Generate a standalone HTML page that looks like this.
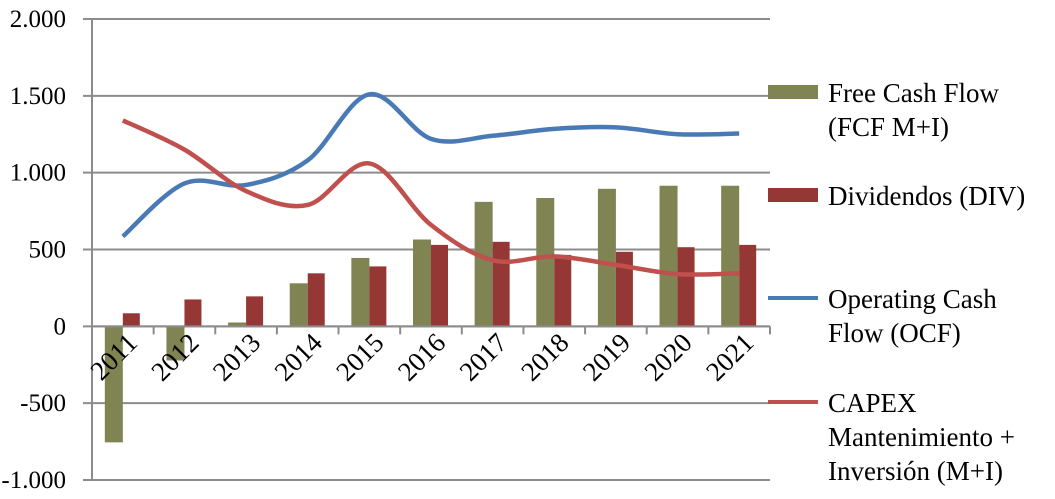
<!DOCTYPE html>
<html><head><meta charset="utf-8">
<style>
body{margin:0;background:#fff;}
svg{display:block;font-family:"Liberation Serif",serif;}
</style></head>
<body>
<svg id="chart" width="1055" height="499">
  <g id="grid"></g>
  <g id="bars"></g>
  <g id="lines"></g>
  <g id="axes"></g>
  <g id="legend" font-size="27">
    <rect x="768" y="85" width="50" height="14" fill="#7f8452"/>
    <text x="828" y="102">Free Cash Flow</text>
    <text x="828" y="136">(FCF M+I)</text>
    <rect x="768" y="188" width="50" height="14" fill="#953735"/>
    <text x="828" y="205">Dividendos (DIV)</text>
    <line x1="768" y1="298" x2="818" y2="298" stroke="#4a7ab5" stroke-width="4"/>
    <text x="828" y="308">Operating Cash</text>
    <text x="828" y="342">Flow (OCF)</text>
    <line x1="768" y1="402" x2="818" y2="402" stroke="#c0504d" stroke-width="4"/>
    <text x="828" y="412">CAPEX</text>
    <text x="828" y="446">Mantenimiento +</text>
    <text x="828" y="480">Inversión (M+I)</text>
  </g>
</svg>
<script>
const years = ["2011","2012","2013","2014","2015","2016","2017","2018","2019","2020","2021"];
const fcf = [-755,-222,25,280,445,565,810,835,895,915,915];
const div = [85,175,195,345,390,530,550,465,485,515,530];
const ocf = [585,930,920,1080,1510,1220,1240,1285,1295,1250,1255];
const capex = [1340,1150,880,790,1060,660,430,455,400,340,345];
const yTicks = [2000,1500,1000,500,0,-500,-1000];
const yTickLabels = ["2.000","1.500","1.000","500","0","-500","-1.000"];

const NS="http://www.w3.org/2000/svg";
const left=92,right=770,yTop=19,yBot=480,vmin=-1000,vmax=2000;
const bw=(right-left)/years.length;
const y=v=>yBot-(v-vmin)/(vmax-vmin)*(yBot-yTop);
const xc=i=>left+bw*(i+0.5);
function mk(tag,attrs,parent){const e=document.createElementNS(NS,tag);for(const k in attrs)e.setAttribute(k,attrs[k]);parent.appendChild(e);return e;}
const grid=document.getElementById('grid'),bars=document.getElementById('bars'),lines=document.getElementById('lines'),axes=document.getElementById('axes');

yTicks.forEach((t,i)=>{
  const g=mk('line',{x1:83,x2:right,y1:y(t),y2:y(t),stroke:'#8c8c8c','stroke-width':2},grid);
  
  
  const tx=mk('text',{x:66,y:y(t)+8,'text-anchor':'end','font-size':25},axes);
  tx.textContent=yTickLabels[i];
  
  
});
const ya=mk('line',{x1:left,x2:left,y1:yTop,y2:yBot,stroke:'#8c8c8c','stroke-width':2},axes);



years.forEach((yr,i)=>{
  const x0=xc(i);
  const v1=fcf[i];
  const b1=mk('rect',{x:x0-18,width:18,y:Math.min(y(v1),y(0)),height:Math.abs(y(v1)-y(0)),fill:'#7f8452'},bars);
  
  
  const v2=div[i];
  const b2=mk('rect',{x:x0,width:17,y:Math.min(y(v2),y(0)),height:Math.abs(y(v2)-y(0)),fill:'#953735'},bars);
  
  
  const tk=mk('line',{x1:left+bw*(i+1),x2:left+bw*(i+1),y1:y(0),y2:y(0)+8,stroke:'#8c8c8c','stroke-width':2},axes);
  
  
  const lx=x0+16,ly=y(0)+18;
  const lb=mk('text',{x:lx,y:ly,'text-anchor':'end','font-size':27,transform:`rotate(-45 ${lx} ${ly})`},axes);
  lb.textContent=yr;
  
  
});
const xa=mk('line',{x1:left,x2:right,y1:y(0),y2:y(0),stroke:'#8c8c8c','stroke-width':2},axes);



function smooth(vals){
  const p=vals.map((v,i)=>[xc(i),y(v)]);
  let d=`M${p[0][0]},${p[0][1]}`;
  for(let i=0;i<p.length-1;i++){
    const p0=p[i-1]||p[i],p1=p[i],p2=p[i+1],p3=p[i+2]||p2;
    const c1=[p1[0]+(p2[0]-p0[0])/6,p1[1]+(p2[1]-p0[1])/6];
    const c2=[p2[0]-(p3[0]-p1[0])/6,p2[1]-(p3[1]-p1[1])/6];
    d+=`C${c1[0]},${c1[1]} ${c2[0]},${c2[1]} ${p2[0]},${p2[1]}`;
  }
  return d;
}
const l1=mk('path',{d:smooth(ocf),fill:'none',stroke:'#4a7ab5','stroke-width':4.5},lines);


const l2=mk('path',{d:smooth(capex),fill:'none',stroke:'#c0504d','stroke-width':4.5},lines);


</script>
</body></html>
